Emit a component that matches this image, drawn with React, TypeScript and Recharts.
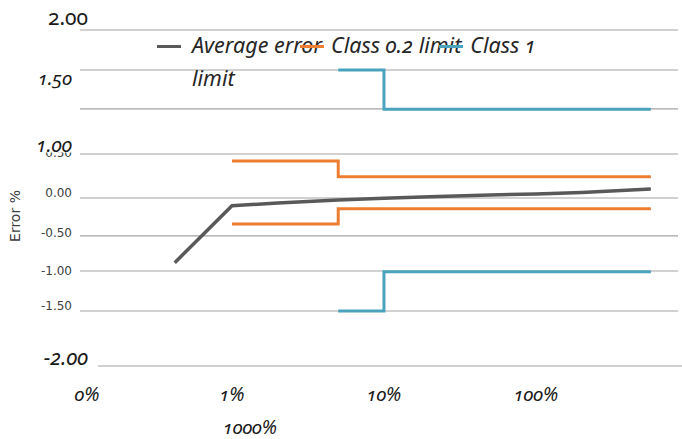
import React from "react";
import { LineChart, Line, XAxis, YAxis, CartesianGrid, Legend, Label } from "recharts";

// ---- data ----
const xTickValues = [0.1, 1, 10, 100];
const xTickLabels = ["0%", "1%", "10%", "100%", "1000%"];

const yTickValues = [2.0, 1.524, 1.06, 0.524, 0.0, -0.452, -0.869, -1.345, -2.0];
const yTickLabels = ["2.00", "1.50", "", "0.50", "0.00", "-0.50", "-1.00", "-1.50", "-2.00"];
const yOverlayLabel = "1.00";

const avgX = [0.42, 1, 2, 5, 10, 20, 50, 100, 200, 570];
const avgY = [-0.77, -0.092, -0.06, -0.024, -0.004, 0.016, 0.036, 0.048, 0.066, 0.107];

const class02X = [1, 5, 570];
const class02Upper = [0.44, 0.254, 0.254];
const class02Lower = [-0.31, -0.127, -0.127];

const class1X = [5, 10, 570];
const class1Upper = [1.524, 1.056, 1.056];
const class1Lower = [-1.345, -0.877, -0.877];

const seriesNames = ["Average error", "Class 0.2 limit", "Class 1 limit"];

const toPoints = (xs: number[], ys: number[]) => xs.map((x, i) => ({ x, y: ys[i] }));

const avgData = toPoints(avgX, avgY);
const c02UpData = toPoints(class02X, class02Upper);
const c02LoData = toPoints(class02X, class02Lower);
const c1UpData = toPoints(class1X, class1Upper);
const c1LoData = toPoints(class1X, class1Lower);

// ---- styles ----
const BIG_FONT = '"Noto Sans", "Open Sans", sans-serif';
const SMALL_FONT = '"DejaVu Sans", sans-serif';
const DARK = "#595959";
const ORANGE = "#ED7D31";
const TEAL = "#4AA3BD";
const GRID = "#a3a3a3";

type TickStyle = { right: number; dy: number; size: number; italic: boolean; big: boolean } | null;
const yTickStyles: TickStyle[] = [
  { right: 88, dy: -5, size: 21, italic: false, big: true },
  { right: 72, dy: 15, size: 19, italic: true, big: true },
  null,
  { right: 72, dy: 3, size: 12, italic: false, big: false },
  { right: 72, dy: -1, size: 12, italic: false, big: false },
  { right: 72, dy: 1, size: 12, italic: false, big: false },
  { right: 72, dy: 4, size: 12, italic: false, big: false },
  { right: 72, dy: -1, size: 12, italic: false, big: false },
  { right: 88, dy: -1, size: 21, italic: true, big: true },
];

const YTick = (props: any) => {
  const { y, payload } = props;
  const idx = yTickValues.indexOf(payload.value);
  const st = yTickStyles[idx];
  if (!st) return <g />;
  const label = yTickLabels[idx];
  return (
    <g>
      <text
        x={st.right}
        y={y + st.dy}
        textAnchor="end"
        fontFamily={st.big ? BIG_FONT : SMALL_FONT}
        fontSize={st.size}
        fontStyle={st.italic ? "italic" : "normal"}
        fill={st.big ? "#1a1a1a" : "#404040"}
        style={{ fontVariantNumeric: st.big ? "oldstyle-nums" : "normal" }}
      >
        {label}
      </text>
      {idx === 3 && (
        <g>
          <rect x={28} y={y - 20} width={48} height={18.5} fill="#ffffff" />
          <text
            x={72}
            y={y - 2}
            textAnchor="end"
            fontFamily={BIG_FONT}
            fontSize={20}
            fontStyle="italic"
            fill="#1a1a1a"
            style={{ fontVariantNumeric: "oldstyle-nums" }}
          >
            {yOverlayLabel}
          </text>
        </g>
      )}
    </g>
  );
};

const XTick = (props: any) => {
  const { x, payload } = props;
  const idx = xTickValues.indexOf(payload.value);
  const common = {
    textAnchor: "middle" as const,
    fontFamily: BIG_FONT,
    fontSize: 19,
    fontStyle: "italic",
    fill: "#1a1a1a",
    style: { fontVariantNumeric: "oldstyle-nums" },
  };
  return (
    <g>
      <text x={idx === 0 ? x + 7 : x} y={401} {...common}>
        {xTickLabels[idx]}
      </text>
      {idx === 1 && (
        <text x={x + 18} y={434} {...common}>
          {xTickLabels[4]}
        </text>
      )}
    </g>
  );
};

const renderLegend = (props: any) => {
  const items = (props.payload || []).filter((e: any) => e.type !== "none");
  return (
    <div
      style={{
        width: 388,
        paddingLeft: 35,
        boxSizing: "border-box",
        fontFamily: BIG_FONT,
        fontStyle: "italic",
        fontSize: 21.5,
        lineHeight: "33px",
        color: "#262626",
        fontVariantNumeric: "oldstyle-nums",
        textAlign: "left",
      }}
    >
      {items.map((e: any, i: number) => (
        <React.Fragment key={i}>
          <span
            style={{
              display: "inline-block",
              width: 24,
              height: 3.5,
              background: e.color,
              marginLeft: i === 0 ? -35 : -22,
              marginRight: i === 0 ? 11 : 7,
              verticalAlign: "middle",
            }}
          />
          {e.value}
        </React.Fragment>
      ))}
    </div>
  );
};

const gridLine = (p: any) => {
  const last = p.index === yTickValues.length - 1;
  return (
    <line
      key={p.key ?? `h-${p.index}`}
      x1={last ? p.x1 + 18 : p.x1}
      x2={last ? p.x2 + 4 : p.x2}
      y1={p.y1}
      y2={p.y2}
      stroke={GRID}
      strokeWidth={1.2}
    />
  );
};

export default function App() {
  return (
    <div style={{ position: "fixed", left: 0, top: 0, width: 682, height: 439, background: "#fff" }}>
      <LineChart width={682} height={439} margin={{ top: 30, right: 4, bottom: 0, left: 0 }}>
        <CartesianGrid vertical={false} horizontal={gridLine} />
        <XAxis
          dataKey="x"
          type="number"
          scale="log"
          domain={[0.1, 860]}
          allowDataOverflow
          ticks={xTickValues}
          interval={0}
          tick={<XTick />}
          axisLine={false}
          tickLine={false}
          height={73}
        />
        <YAxis
          type="number"
          domain={[-2, 2]}
          ticks={yTickValues}
          interval={0}
          tick={<YTick />}
          axisLine={false}
          tickLine={false}
          width={80}
        >
          <Label
            content={() => (
              <text
                x={15}
                y={216}
                transform="rotate(-90 15 216)"
                textAnchor="middle"
                dominantBaseline="central"
                fontFamily={SMALL_FONT}
                fontSize={14}
                fill="#404040"
              >
                Error %
              </text>
            )}
          />
        </YAxis>
        <Legend
          layout="horizontal"
          verticalAlign="middle"
          align="center"
          content={renderLegend}
          wrapperStyle={{ position: "absolute", left: 157, top: 27.5, width: 388 }}
        />
        <Line data={c02UpData} dataKey="y" name={seriesNames[1]} type="stepAfter" stroke={ORANGE} strokeWidth={3} dot={false} activeDot={false} isAnimationActive={false} legendType="line" />
        <Line data={c02LoData} dataKey="y" name={seriesNames[1] + " lower"} type="stepAfter" stroke={ORANGE} strokeWidth={3} dot={false} activeDot={false} isAnimationActive={false} legendType="none" />
        <Line data={c1UpData} dataKey="y" name={seriesNames[2]} type="stepAfter" stroke={TEAL} strokeWidth={3} dot={false} activeDot={false} isAnimationActive={false} legendType="line" />
        <Line data={c1LoData} dataKey="y" name={seriesNames[2] + " lower"} type="stepAfter" stroke={TEAL} strokeWidth={3} dot={false} activeDot={false} isAnimationActive={false} legendType="none" />
        <Line data={avgData} dataKey="y" name={seriesNames[0]} type="linear" stroke={DARK} strokeWidth={3.5} dot={false} activeDot={false} isAnimationActive={false} legendType="line" />
      </LineChart>
    </div>
  );
}
